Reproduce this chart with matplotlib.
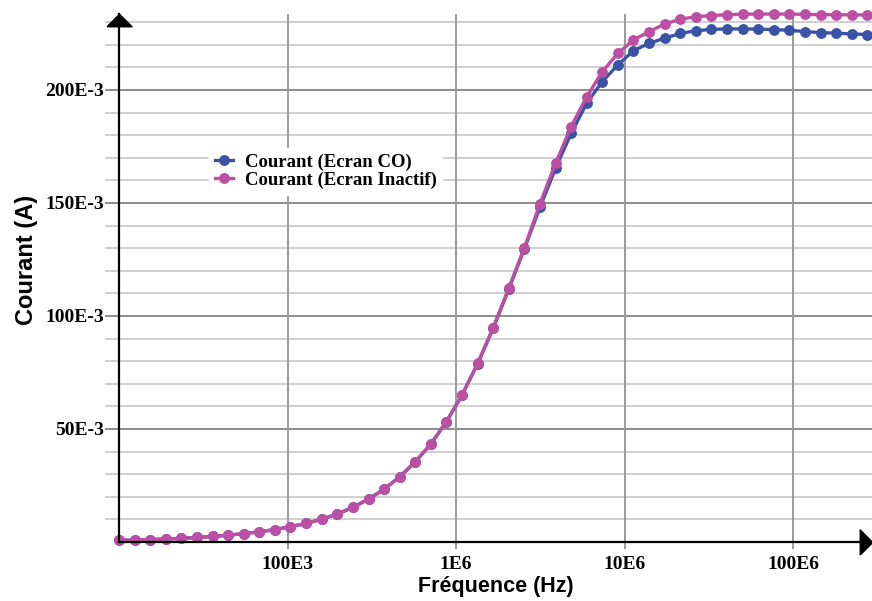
import matplotlib
matplotlib.use("Agg")
import matplotlib.pyplot as plt
from matplotlib.ticker import FixedLocator

# frequency sweep (Hz)
freq = [1.0e4, 1.237e4, 1.531e4, 1.894e4, 2.344e4, 2.9e4, 3.588e4, 4.44e4, 5.49e4, 6.8e4,
        8.41e4, 1.04e5, 1.287e5, 1.593e5, 1.971e5, 2.44e5, 3.02e5, 3.73e5, 4.62e5, 5.71e5,
        7.07e5, 8.75e5, 1.083e6, 1.34e6, 1.658e6, 2.05e6, 2.54e6, 3.14e6, 3.89e6, 4.81e6,
        5.95e6, 7.36e6, 9.11e6, 1.127e7, 1.395e7, 1.726e7, 2.136e7, 2.643e7, 3.27e7, 4.05e7,
        5.01e7, 6.2e7, 7.67e7, 9.49e7, 1.174e8, 1.453e8, 1.798e8, 2.224e8, 2.75e8]

# current in mA
i_inactif = [0.7, 0.85, 1.05, 1.3, 1.6, 2.0, 2.45, 3.0, 3.7, 4.5,
             5.5, 6.8, 8.2, 10.1, 12.4, 15.3, 19.0, 23.3, 28.8, 35.4,
             43.3, 53.2, 65.0, 79.0, 94.8, 112.3, 130.2, 149.6, 167.6, 183.8,
             197.0, 208.1, 216.2, 222.1, 225.8, 229.2, 231.3, 232.4, 232.9, 233.3,
             233.5, 233.6, 233.6, 233.6, 233.4, 233.3, 233.3, 233.2, 233.2]
i_co = [0.7, 0.85, 1.05, 1.3, 1.6, 2.0, 2.45, 3.0, 3.7, 4.5,
        5.5, 6.8, 8.2, 10.1, 12.4, 15.3, 19.0, 23.3, 28.8, 35.4,
        43.3, 53.2, 65.0, 78.8, 94.5, 111.8, 129.8, 148.0, 165.4, 180.8,
        194.1, 203.7, 211.1, 217.4, 220.6, 222.9, 225.0, 226.2, 226.8, 227.0,
        227.0, 226.9, 226.7, 226.4, 225.8, 225.4, 225.1, 224.8, 224.5]

y_ticks = [50, 100, 150, 200]
y_labels = ["50E-3", "100E-3", "150E-3", "200E-3"]
x_ticks = [1e5, 1e6, 1e7, 1e8]
x_labels = ["100E3", "1E6", "10E6", "100E6"]

blue = "#3a53a6"
pink = "#bb4fa3"
serif_bold = {"family": "Liberation Serif", "weight": "bold"}

fig = plt.figure(figsize=(8.72, 6.01), dpi=100)
ax = fig.add_axes([0.1365, 0.0982, 0.8635, 0.8785])

ax.set_xscale("log")
ax.set_xlim(1.0e4, 2.93e8)
ax.set_ylim(0, 233.6)

# grid
for v in range(10, 231, 10):
    major = v % 50 == 0
    c = "#8c8c8c" if major else "#cfcfcf"
    ax.axhline(v, color=c, lw=1.4, zorder=0)
    # gridline stubs left of the axis
    ax.plot([-0.017, 0], [v, v], transform=ax.get_yaxis_transform(),
            color=c, lw=1.4, clip_on=False, zorder=0)
for f in x_ticks:
    ax.axvline(f, color="#9a9a9a", lw=1.4, zorder=0)

ax.plot(freq, i_co, color=blue, lw=2.4, marker="o", ms=6.8, label="Courant (Ecran CO)",
        clip_on=False, zorder=3)
ax.plot(freq, i_inactif, color=pink, lw=2.4, marker="o", ms=6.8, label="Courant (Ecran Inactif)",
        clip_on=False, zorder=4)

ax.xaxis.set_major_locator(FixedLocator(x_ticks))
ax.xaxis.set_minor_locator(FixedLocator([]))
ax.set_xticklabels(x_labels, fontdict=serif_bold, fontsize=14)
ax.yaxis.set_major_locator(FixedLocator(y_ticks))
ax.set_yticklabels(y_labels, fontdict=serif_bold, fontsize=14)
ax.tick_params(axis="x", length=5, width=1.2, color="#8c8c8c", pad=5)
ax.tick_params(axis="y", length=0, pad=11)

for s in ["top", "right"]:
    ax.spines[s].set_visible(False)
for s in ["left", "bottom"]:
    ax.spines[s].set_color("black")
    ax.spines[s].set_linewidth(1.6)
    ax.spines[s].set_zorder(5)

# axis arrow heads
up_tri = [(-1, -0.5), (1, -0.5), (0, 0.5), (-1, -0.5)]
right_tri = [(-0.5, -1), (-0.5, 1), (0.5, 0), (-0.5, -1)]
ax.plot(0, 0.9877, marker=up_tri, ms=18, color="black", transform=ax.transAxes,
        clip_on=False, zorder=6)
ax.plot(0.992, 0, marker=right_tri, ms=18, color="black", transform=ax.transAxes,
        clip_on=False, zorder=6)

ax.set_xlabel("Fréquence (Hz)", family="Liberation Sans", weight="bold", fontsize=15.5)
ax.xaxis.set_label_coords(0.5, -0.065)
ax.set_ylabel("Courant (A)", family="Liberation Sans", weight="bold", fontsize=17)
ax.yaxis.set_label_coords(-0.1076, 0.534)

leg = ax.legend(loc="center left", bbox_to_anchor=(0.107, 0.702), frameon=True, fancybox=False,
                framealpha=1, edgecolor="white", handlelength=1.0, handletextpad=0.6,
                labelspacing=0.05, borderpad=0.3, prop={"family": "Liberation Serif",
                                                       "weight": "bold", "size": 13.5})
leg.set_zorder(7)

fig.savefig("out.png", dpi=100)
